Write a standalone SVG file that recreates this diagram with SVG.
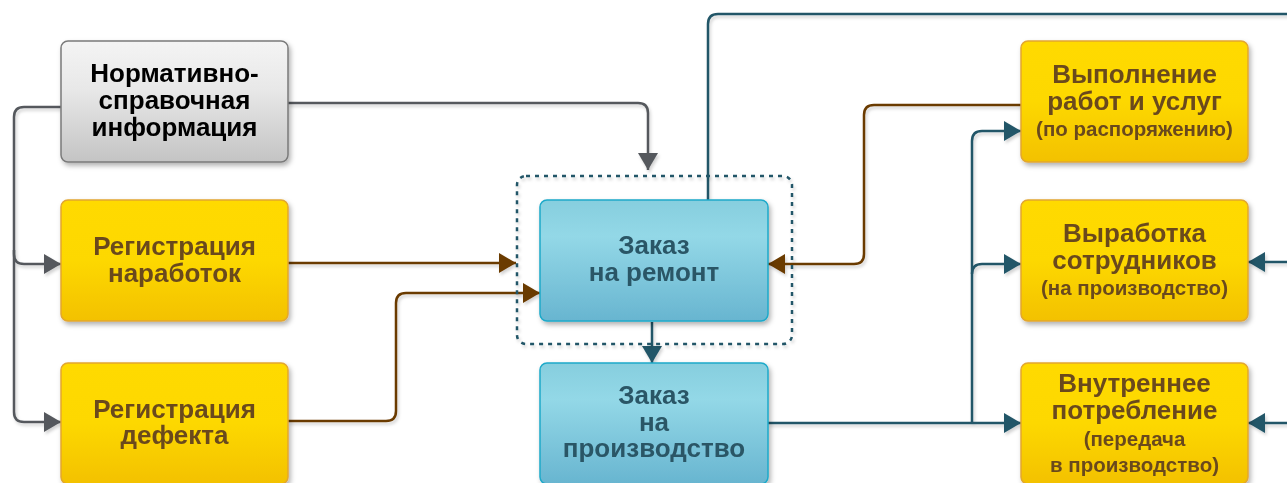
<svg xmlns="http://www.w3.org/2000/svg" width="1287" height="483" viewBox="0 0 1287 483">
<defs>
<linearGradient id="gY" x1="0" y1="0" x2="0" y2="1"><stop offset="0" stop-color="#FFDA00"/><stop offset="0.5" stop-color="#FDD800"/><stop offset="1" stop-color="#F3C100"/></linearGradient>
<linearGradient id="gB" x1="0" y1="0" x2="0" y2="1"><stop offset="0" stop-color="#86CEDE"/><stop offset="0.3" stop-color="#93D8E7"/><stop offset="1" stop-color="#68B5D0"/></linearGradient>
<linearGradient id="gG" x1="0" y1="0" x2="0" y2="1"><stop offset="0" stop-color="#F4F4F4"/><stop offset="0.4" stop-color="#E8E8E8"/><stop offset="1" stop-color="#C4C4C4"/></linearGradient>
<filter id="sh" x="-10%" y="-10%" width="130%" height="140%"><feDropShadow dx="2" dy="3" stdDeviation="2.5" flood-color="#000" flood-opacity="0.3"/></filter>
<filter id="lsh" x="-5%" y="-5%" width="110%" height="110%"><feDropShadow dx="1.5" dy="2.5" stdDeviation="1.5" flood-color="#000" flood-opacity="0.18"/></filter>
<marker id="aG" viewBox="0 0 17 20" refX="17" refY="10" markerWidth="17" markerHeight="20" markerUnits="userSpaceOnUse" orient="auto"><path d="M0,0 L17,10 L0,20 Z" fill="#55595d"/></marker>
<marker id="aBr" viewBox="0 0 17 20" refX="17" refY="10" markerWidth="17" markerHeight="20" markerUnits="userSpaceOnUse" orient="auto"><path d="M0,0 L17,10 L0,20 Z" fill="#6B3B06"/></marker>
<marker id="aT" viewBox="0 0 17 20" refX="17" refY="10" markerWidth="17" markerHeight="20" markerUnits="userSpaceOnUse" orient="auto"><path d="M0,0 L17,10 L0,20 Z" fill="#245668"/></marker>
</defs>
<style>
.y{fill:url(#gY);stroke:#E2A630;stroke-width:1.5}
.b{fill:url(#gB);stroke:#1EA9C9;stroke-width:1.5}
.g{fill:url(#gG);stroke:#7a7a7a;stroke-width:1.5}
text{font-family:"Liberation Sans",Arial,sans-serif;font-weight:bold;text-anchor:middle}
.ty{fill:#6A4A1E;font-size:26px}
.ts{fill:#6A4A1E;font-size:20.5px}
.tb{fill:#2B5666;font-size:26px}
.tg{fill:#000;font-size:26px}
.cg{fill:none;stroke:#55595d;stroke-width:2.5}
.cbr{fill:none;stroke:#6B3B06;stroke-width:2.5}
.ct{fill:none;stroke:#245668;stroke-width:2.5}
</style>
<g id="connectors" filter="url(#lsh)">
<path class="cg" d="M61,107 H24 Q14,107 14,117 V254 Q14,264 24,264 H61" marker-end="url(#aG)"/>
<path class="cg" d="M14,250 V412 Q14,422 24,422 H61" marker-end="url(#aG)"/>
<path class="cg" d="M288,103 H638 Q648,103 648,113 V170" marker-end="url(#aG)"/>
<path class="cbr" d="M288,263 H516" marker-end="url(#aBr)"/>
<path class="cbr" d="M288,421 H386 Q396,421 396,411 V303 Q396,293 406,293 H540" marker-end="url(#aBr)"/>
<path class="cbr" d="M1021,105 H874 Q864,105 864,115 V254 Q864,264 854,264 H768" marker-end="url(#aBr)"/>
<path class="ct" d="M708,200 V24 Q708,14 718,14 H1290"/>
<path class="ct" d="M652,322 V363" marker-end="url(#aT)"/>
<path class="ct" d="M768,423 H1021" marker-end="url(#aT)"/>
<path class="ct" d="M972,423 V141 Q972,131 982,131 H1021" marker-end="url(#aT)"/>
<path class="ct" d="M972,274 Q972,264 982,264 H1021" marker-end="url(#aT)"/>
<path class="ct" d="M1290,262 H1248" marker-end="url(#aT)"/>
<path class="ct" d="M1290,423 H1248" marker-end="url(#aT)"/>
</g>
<g id="group-remont">
<rect x="517" y="176" width="275" height="168" rx="9" fill="none" stroke="#245668" stroke-width="2.5" stroke-dasharray="4 5" filter="url(#lsh)"/>
</g>
<g id="n-nsi" filter="url(#sh)"><rect class="g" x="61" y="41" width="227" height="121" rx="7"/>
<text class="tg" x="174.5" y="82">Нормативно-</text><text class="tg" x="174.5" y="109">справочная</text><text class="tg" x="174.5" y="136">информация</text></g>
<g id="n-narabotok" filter="url(#sh)"><rect class="y" x="61" y="200" width="227" height="121" rx="7"/>
<text class="ty" x="174.5" y="255">Регистрация</text><text class="ty" x="174.5" y="282">наработок</text></g>
<g id="n-defekt" filter="url(#sh)"><rect class="y" x="61" y="363" width="227" height="121" rx="7"/>
<text class="ty" x="174.5" y="418">Регистрация</text><text class="ty" x="174.5" y="444">дефекта</text></g>
<g id="n-remont" filter="url(#sh)"><rect class="b" x="540" y="200" width="228" height="121" rx="7"/>
<text class="tb" x="654" y="254">Заказ</text><text class="tb" x="654" y="281">на ремонт</text></g>
<g id="n-proizv" filter="url(#sh)"><rect class="b" x="540" y="363" width="228" height="121" rx="7"/>
<text class="tb" x="654" y="404">Заказ</text><text class="tb" x="654" y="431">на</text><text class="tb" x="654" y="457">производство</text></g>
<g id="n-vypolnenie" filter="url(#sh)"><rect class="y" x="1021" y="41" width="227" height="121" rx="7"/>
<text class="ty" x="1134.5" y="83">Выполнение</text><text class="ty" x="1134.5" y="110">работ и услуг</text><text class="ts" x="1134.5" y="136">(по распоряжению)</text></g>
<g id="n-vyrabotka" filter="url(#sh)"><rect class="y" x="1021" y="200" width="227" height="121" rx="7"/>
<text class="ty" x="1134.5" y="242">Выработка</text><text class="ty" x="1134.5" y="269">сотрудников</text><text class="ts" x="1134.5" y="295">(на производство)</text></g>
<g id="n-vnutr" filter="url(#sh)"><rect class="y" x="1021" y="363" width="227" height="121" rx="7"/>
<text class="ty" x="1134.5" y="392">Внутреннее</text><text class="ty" x="1134.5" y="419">потребление</text><text class="ts" x="1134.5" y="446">(передача</text><text class="ts" x="1134.5" y="472">в производство)</text></g>
</svg>
